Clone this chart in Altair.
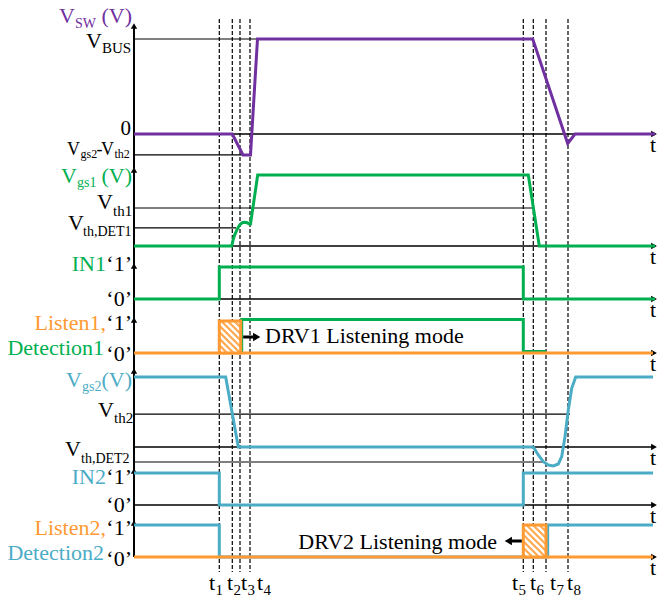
import altair as alt
import pandas as pd

# ---------------- signal data ----------------
# switching instants t1..t8 (time units counted from the vertical axis)
t_instants = [85.3, 98.3, 106.0, 116.0, 389.3, 399.3, 412.0, 434.0]
t_subscripts = ["1", "2", "3", "4", "5", "6", "7", "8"]
t_stop = 521.0

# switch-node voltage, normalised to V_BUS
vsw_time = [0, 98.3, 109.0, 116.5, 123.5, 398.7, 433.7, 441.0, 521.0]
vsw_level = [0, 0, -0.22, -0.22, 1.0, 1.0, -0.10, 0, 0]

# gate-source voltage of the upper device (normalised to its on level)
vgs1_time = [0, 97.7, 99.0, 100.5, 102.7, 104.5, 106.0, 108.0, 110.0, 112.7,
             115.5, 116.5, 123.7, 394.3, 405.3, 521.0]
vgs1_level = [0, 0, 0.08, 0.15, 0.22, 0.27, 0.30, 0.325, 0.335, 0.33,
              0.31, 0.31, 1.0, 1.0, 0, 0]

# logic input of driver 1
in1_time = [0, 85.3, 85.3, 389.3, 389.3, 521.0]
in1_level = [0, 0, 1, 1, 0, 0]

# detection output of driver 1
det1_time = [85.3, 107.7, 107.7, 389.3, 389.3, 412.0]
det1_level = [0, 0, 1, 1, 0, 0]

# listening window of driver 1 (start, end)
listen1_window = [85.3, 106.7]

# gate-source voltage of the lower device
vgs2_time = [0, 91.7, 104.3, 399.3, 404.3, 409.3, 414.3, 419.3, 424.3, 427.7,
             431.0, 434.3, 437.7, 441.7, 519.0]
vgs2_level = [1, 1, 0, 0, -0.114, -0.21, -0.257, -0.271, -0.243, -0.138,
              0.147, 0.529, 0.839, 1, 1]

# logic input of driver 2
in2_time = [0, 85.3, 85.3, 389.3, 389.3, 519.0]
in2_level = [1, 1, 0, 0, 1, 1]

# detection output of driver 2
det2_time = [0, 85.3, 85.3, 413.7, 413.7, 519.0]
det2_level = [1, 1, 0, 0, 1, 1]

# listening window of driver 2 (start, end)
listen2_window = [389.3, 412.0]

# threshold guide lines: level and the time where each line stops
ref_panel = ["vsw", "vsw", "vgs1", "vgs1", "vgs2", "vgs2"]
ref_level = [1.0, -0.22, 0.535, 0.254, 0.471, -0.214]
ref_stop = [123.5, 111.0, 399.0, 102.0, 436.0, 411.0]

# ---------------- layout ----------------
W, H = 660, 597
AX = 134  # pixel column of the shared vertical axis
# baseline row, pixels per unit level, top of the axis arrow
PANELS = {
    "vsw": (134, 95, 23),
    "vgs1": (246, 71, 167),
    "in1": (299, 32, 263),
    "lis1": (353, 32, 317),
    "vgs2": (447, 70, 368),
    "in2": (505, 32, 468),
    "lis2": (557, 32, 520),
}

PURPLE = "#7030A0"
GREEN = "#00B050"
ORANGE = "#FF9A33"
BLUE = "#4BACC6"
BLACK = "#000000"
FONT = "Liberation Serif"


def row(panel, level):
    base, unit, _ = PANELS[panel]
    return base - level * unit


xs = alt.Scale(domain=[-AX, W - AX], nice=False, zero=False)
ys = alt.Scale(domain=[H, 0], nice=False, zero=False)


def X(f="x"):
    return alt.X(f"{f}:Q", scale=xs, axis=None)


def Y(f="y"):
    return alt.Y(f"{f}:Q", scale=ys, axis=None)


def trace(times, levels, panel, color, **kw):
    df = pd.DataFrame({
        "x": times,
        "y": [row(panel, v) for v in levels],
        "i": list(range(len(times))),
    })
    return alt.Chart(df).mark_line(
        color=color, strokeWidth=3, strokeJoin="miter", strokeMiterLimit=3, **kw
    ).encode(x=X(), y=Y(), order="i:Q")


layers = []

# threshold guide lines
ref_df = pd.DataFrame({
    "x": [0.0] * len(ref_level),
    "x2": ref_stop,
    "y": [row(p, v) for p, v in zip(ref_panel, ref_level)],
})
layers.append(alt.Chart(ref_df).mark_rule(color=BLACK, strokeWidth=1.2).encode(
    x=X(), x2="x2:Q", y=Y()))

# time axes of every panel
axis_df = pd.DataFrame({
    "x": [0.0] * len(PANELS),
    "x2": [t_stop - 1] * len(PANELS),
    "y": [row(p, 0) for p in PANELS],
})
layers.append(alt.Chart(axis_df).mark_rule(color=BLACK, strokeWidth=1.6).encode(
    x=X(), x2="x2:Q", y=Y()))
layers.append(alt.Chart(axis_df).mark_point(
    shape="triangle-right", filled=True, color=BLACK, size=45, opacity=1
).encode(x=alt.X("x2:Q", scale=xs, axis=None), y=Y()))

# shared vertical axis with an arrow at the top of each panel
vax_df = pd.DataFrame({"x": [0.0], "y": [PANELS["vsw"][2] + 2], "y2": [row("lis2", 0)]})
layers.append(alt.Chart(vax_df).mark_rule(color=BLACK, strokeWidth=2).encode(
    x=X(), y=Y(), y2="y2:Q"))
varrow_df = pd.DataFrame({"x": [0.0] * len(PANELS), "y": [PANELS[p][2] + 3 for p in PANELS]})
layers.append(alt.Chart(varrow_df).mark_point(
    shape="triangle-up", filled=True, color=BLACK, size=40, opacity=1
).encode(x=X(), y=Y()))

# dashed markers at the switching instants
dash_df = pd.DataFrame({"x": t_instants, "y": [19] * 8, "y2": [572] * 8})
layers.append(alt.Chart(dash_df).mark_rule(
    color=BLACK, strokeWidth=1.2, strokeDash=[4, 2]
).encode(x=X(), y=Y(), y2="y2:Q"))

# signal traces
layers.append(trace(vsw_time, vsw_level, "vsw", PURPLE))
layers.append(trace(vgs1_time, vgs1_level, "vgs1", GREEN))
layers.append(trace(in1_time, in1_level, "in1", GREEN))
layers.append(trace(det1_time, det1_level, "lis1", GREEN, yOffset=-1.5))
layers.append(trace(vgs2_time, vgs2_level, "vgs2", BLUE))
layers.append(trace(in2_time, in2_level, "in2", BLUE))
layers.append(trace(det2_time, det2_level, "lis2", BLUE))

# listen baselines
lis_df = pd.DataFrame({
    "x": [0.0, 0.0], "x2": [t_stop - 2, t_stop - 2],
    "y": [row("lis1", 0), row("lis2", 0)],
})
layers.append(alt.Chart(lis_df).mark_rule(color=ORANGE, strokeWidth=3).encode(
    x=X(), x2="x2:Q", y=Y()))

# hatched listening windows
boxes = [(listen1_window, "lis1"), (listen2_window, "lis2")]
box_df = pd.DataFrame({
    "x": [b[0][0] for b in boxes], "x2": [b[0][1] for b in boxes],
    "y": [row(b[1], 1) for b in boxes], "y2": [row(b[1], 0) for b in boxes],
})
layers.append(alt.Chart(box_df).mark_rect(fill="white").encode(
    x=X(), x2="x2:Q", y=Y(), y2="y2:Q"))

hatch = []
for _, b in box_df.iterrows():
    w = b["x2"] - b["x"]
    h = b["y2"] - b["y"]
    c = -w
    while c < h:
        lo = max(0.0, -c)
        hi = min(w, h - c)
        if hi - lo > 0.5:
            hatch.append({"x": b["x"] + lo, "y": b["y"] + c + lo,
                          "x2": b["x"] + hi, "y2": b["y"] + c + hi})
        c += 6.5
hatch_df = pd.DataFrame(hatch)
layers.append(alt.Chart(hatch_df).mark_rule(color=ORANGE, strokeWidth=2.2, opacity=0.85).encode(
    x=X(), y=Y(), x2="x2:Q", y2="y2:Q"))
layers.append(alt.Chart(box_df).mark_rect(
    fillOpacity=0, stroke=ORANGE, strokeWidth=3
).encode(x=X(), x2="x2:Q", y=Y(), y2="y2:Q"))

# listening-mode arrows
shaft_df = pd.DataFrame({
    "x": [det1_time[1] + 1.5, listen2_window[0] - 1.5],
    "x2": [det1_time[1] + 12, listen2_window[0] - 12],
    "y": [row("lis1", 0.5), row("lis2", 0.5)],
})
layers.append(alt.Chart(shaft_df).mark_rule(color=BLACK, strokeWidth=3).encode(
    x=X(), x2="x2:Q", y=Y()))
head_r = pd.DataFrame({"x": [det1_time[1] + 15], "y": [row("lis1", 0.5)]})
head_l = pd.DataFrame({"x": [listen2_window[0] - 15], "y": [row("lis2", 0.5)]})
layers.append(alt.Chart(head_r).mark_point(
    shape="triangle-right", filled=True, color=BLACK, size=70, opacity=1
).encode(x=X(), y=Y()))
layers.append(alt.Chart(head_l).mark_point(
    shape="triangle-left", filled=True, color=BLACK, size=70, opacity=1
).encode(x=X(), y=Y()))


# ---------------- text ----------------
left_text = [
    # (text, x pixel, baseline pixel, font size, colour)
    ("V", 59, 23, 22, PURPLE), ("SW", 75, 28, 14, PURPLE),
    ("V", 86, 48, 22, BLACK), ("BUS", 102, 53, 15, BLACK),
    ("V", 67, 155, 18, BLACK), ("gs2", 80.5, 158, 12, BLACK),
    ("-", 96.5, 155, 18, BLACK), ("V", 101, 155, 18, BLACK), ("th2", 114.5, 158, 12, BLACK),
    ("V", 61, 183, 22, GREEN), ("gs1", 77, 187, 14, GREEN),
    ("V", 97, 209, 22, BLACK), ("th1", 113, 216, 15, BLACK),
    ("V", 68, 230, 22, BLACK), ("th,DET1", 83, 236, 14, BLACK),
    ("V", 66, 387, 22, BLUE), ("gs2", 82, 391, 14, BLUE),
    ("V", 98, 417, 22, BLACK), ("th2", 114, 423, 15, BLACK),
    ("V", 65, 456, 22, BLACK), ("th,DET2", 81, 463, 14, BLACK),
    ("DRV1 Listening mode", 265, 343, 22, BLACK),
]
right_text = [
    ("(V)", 132, 23, 22, PURPLE), ("0", 131, 135, 21, BLACK),
    ("(V)", 132, 183, 22, GREEN),
    ("IN1", 106, 271, 22, GREEN), ("\u20181\u2019", 132, 271, 22, BLACK),
    ("\u20180\u2019", 132, 306, 22, BLACK),
    ("Listen1,", 106, 330, 22, ORANGE), ("\u20181\u2019", 132, 330, 22, BLACK),
    ("Detection1", 104, 355, 22, GREEN), ("\u20180\u2019", 132, 361, 22, BLACK),
    ("(V)", 132, 387, 22, BLUE),
    ("IN2", 106, 484, 22, BLUE), ("\u20181\u2019", 132, 484, 22, BLACK),
    ("\u20180\u2019", 132, 512, 22, BLACK),
    ("Listen2,", 106, 535, 22, ORANGE), ("\u20181\u2019", 132, 535, 22, BLACK),
    ("Detection2", 104, 560, 22, BLUE), ("\u20180\u2019", 132, 566, 22, BLACK),
    ("DRV2 Listening mode", 497, 549, 22, BLACK),
]

# t_k labels under the dashed markers, nudged apart where they crowd
t_nudge = [-10.3, -5.3, 1.0, 7.0, -11.3, -3.3, 4.0, -1.0]
for tk, sub, dx in zip(t_instants, t_subscripts, t_nudge):
    left_text.append(("t", AX + tk + dx, 590, 22, BLACK))
    left_text.append((sub, AX + tk + dx + 6.5, 595, 15, BLACK))

# "t" beside the arrow of every time axis
centre_text = [("t", AX + t_stop - 2, row(p, 0) + 18, 22, BLACK) for p in PANELS]


def text_layer(items, align):
    df = pd.DataFrame(items, columns=["text", "xp", "y", "fs", "c"])
    df["x"] = df["xp"] - AX
    return alt.Chart(df).mark_text(
        align=align, baseline="alphabetic", font=FONT
    ).encode(
        x=X(), y=Y(), text="text:N",
        size=alt.Size("fs:Q", scale=None, legend=None),
        color=alt.Color("c:N", scale=None, legend=None),
    )


layers.append(text_layer(left_text, "left"))
layers.append(text_layer(right_text, "right"))
layers.append(text_layer(centre_text, "center"))

chart = alt.layer(*layers).properties(
    width=W, height=H, padding=0,
    autosize=alt.AutoSizeParams(type="none"),
    background="white",
).configure_view(strokeWidth=0)

chart.save("out.html", embed_options={"renderer": "svg", "actions": False})
